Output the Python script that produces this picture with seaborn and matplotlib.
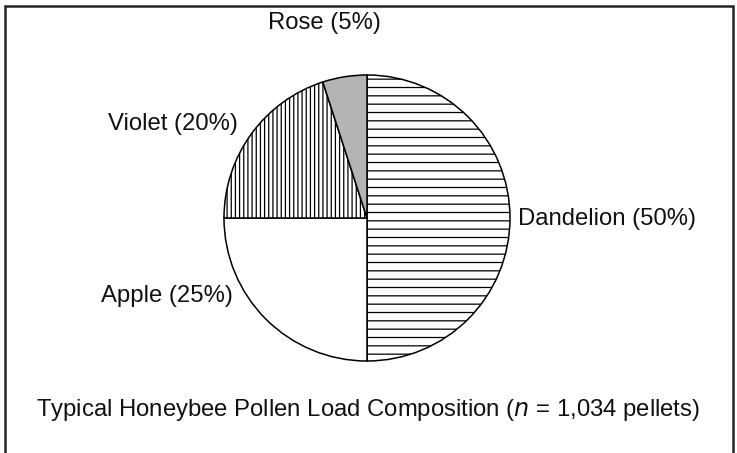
import matplotlib
matplotlib.use("Agg")
import matplotlib.pyplot as plt
import seaborn as sns

# Data
categories = ["Dandelion", "Apple", "Violet", "Rose"]
shares = [50, 25, 20, 5]
hatches = ["--", "", "||||", ""]
fills = ["white", "white", "white", "#b4b4b4"]
title = "Typical Honeybee Pollen Load Composition ($\\it{n}$ = 1,034 pellets)"

sns.set_theme(style="white")
plt.rcParams["font.family"] = ["Liberation Sans", "DejaVu Sans"]
plt.rcParams["hatch.linewidth"] = 0.9

W, H = 737, 453
fig = plt.figure(figsize=(W / 100, H / 100), dpi=100)
ax = fig.add_axes([0, 0, 1, 1])
ax.set_xlim(0, W)
ax.set_ylim(0, H)
ax.set_aspect("equal")
ax.axis("off")

cx, cy, r = 367, H - 218, 143
wedges, _ = ax.pie(shares, startangle=90, counterclock=False,
                   center=(cx, cy), radius=r, colors=fills,
                   wedgeprops=dict(edgecolor="black", linewidth=1.1))
for w, h in zip(wedges, hatches):
    w.set_hatch(h)
if hasattr(wedges[2], "set_hatchcolor"):
    wedges[2].set_hatchcolor("#555555")
ax.set_xlim(0, W)
ax.set_ylim(0, H)

fs = 17.2
label_pos = {
    "Dandelion": (518, H - 219, "left"),
    "Apple": (233, H - 296, "right"),
    "Violet": (238, H - 124, "right"),
    "Rose": (324, H - 23, "center"),
}
for cat, s in zip(categories, shares):
    x, y, ha = label_pos[cat]
    ax.text(x, y, f"{cat} ({s}%)", ha=ha, va="center", fontsize=fs, color="#111111")

ax.text(368, H - 410, title, ha="center", va="center", fontsize=fs, color="#111111")

# frame (top, left, right)
ax.plot([5.5, 5.5, 733.5, 733.5], [-5, H - 6, H - 6, -5], color="#222222", lw=1.8,
        solid_joinstyle="miter", clip_on=False)

fig.savefig("out.png", dpi=100, facecolor="white")
